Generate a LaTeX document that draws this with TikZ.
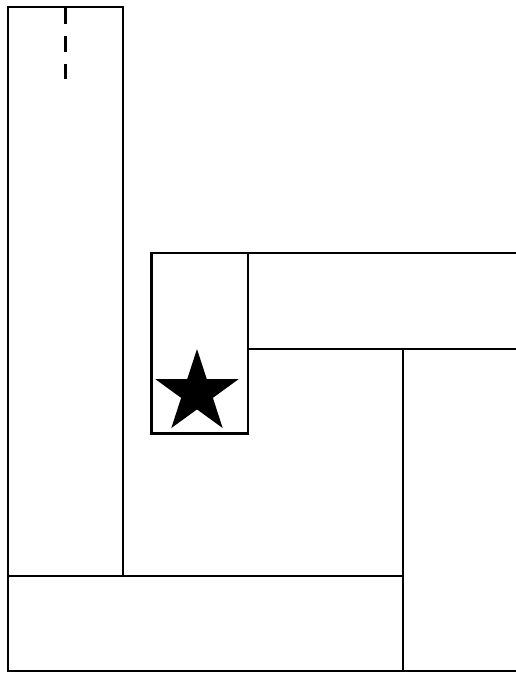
\documentclass[tikz,border=0pt]{standalone}
\begin{document}
\begin{tikzpicture}[x=1pt,y=-1pt,
  wall/.style={draw=black,line width=2.2pt,line join=miter},
  dashwall/.style={draw=black,line width=3pt,dash pattern=on 17pt off 12pt on 16pt off 12pt on 16pt off 20pt}]
\useasboundingbox (0,0) rectangle (516,673);
% left tall room
\draw[wall] (8,7) rectangle (123,576);
\draw[dashwall] (65,7) -- (65,79);
% bottom room
\draw[wall] (8,576) rectangle (403,671);
% right room
\draw[wall] (516,349) -- (403,349) -- (403,671) -- (516,671);
% horizontal corridor
\draw[wall] (516,253) -- (248,253) -- (248,349) -- (516,349);
% small room with star
\draw[wall] (151.5,253) rectangle (248,433.5);
\fill[black] (197,392.7) +(-90:43.7) -- +(-54:16.7) -- +(-18:43.7) -- +(18:16.7) -- +(54:43.7)
  -- +(90:16.7) -- +(126:43.7) -- +(162:16.7) -- +(198:43.7) -- +(234:16.7) -- cycle;
\end{tikzpicture}
\end{document}
